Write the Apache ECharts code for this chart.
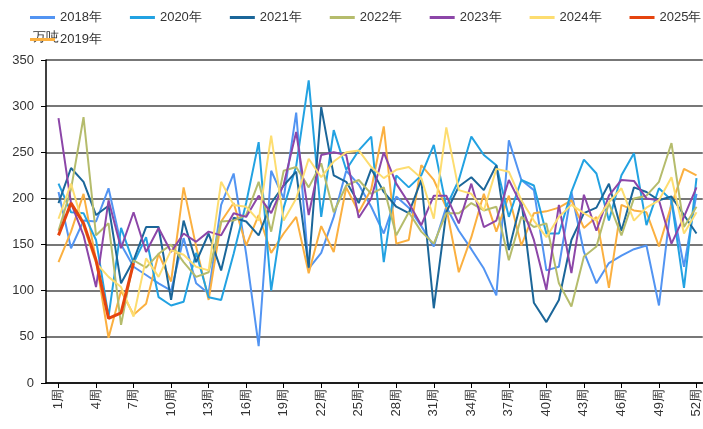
<!DOCTYPE html>
<html>
<head>
<meta charset="utf-8">
<script src="https://cdn.jsdelivr.net/npm/echarts@6/dist/echarts.min.js"></script>
<style>
  html, body { margin: 0; padding: 0; background: #fff; }
  #chart { width: 703px; height: 429px; }
</style>
</head>
<body>
<div id="chart"></div>
<script>
// weekly values, 万吨
const labelWeeks = [1, 4, 7, 10, 13, 16, 19, 22, 25, 28, 31, 34, 37, 40, 43, 46, 49, 52]
const yTicks = [0, 50, 100, 150, 200, 250, 300, 350]

const y2018 = [207, 146, 176, 175, 211, 150, 126, 117, 108, 100, 157, 108, 97, 193, 227, 140, 40, 230, 200, 293,
  124, 141, 180, 230, 215, 191, 162, 202, 190, 170, 148, 191, 165, 145, 124, 95, 263, 220, 209, 122,
  126, 207, 142, 108, 130, 138, 145, 149, 84, 198, 126, 205]
const y2019 = [131, 164, 205, 133, 49, 100, 74, 86, 140, 110, 212, 148, 90, 175, 195, 149, 182, 141, 162, 180,
  119, 170, 142, 212, 185, 210, 278, 151, 155, 236, 220, 190, 120, 158, 205, 164, 203, 149, 184, 186,
  190, 198, 168, 180, 103, 193, 187, 185, 148, 193, 232, 225]
const y2020 = [216, 185, 184, 155, 72, 168, 130, 158, 93, 84, 88, 141, 93, 90, 140, 195, 261, 100, 190, 235,
  328, 180, 274, 231, 252, 267, 131, 225, 212, 225, 258, 191, 220, 267, 247, 236, 180, 220, 214, 162,
  162, 207, 242, 227, 176, 225, 249, 171, 211, 198, 103, 222]
const y2021 = [195, 233, 218, 182, 192, 108, 133, 169, 169, 90, 176, 131, 162, 122, 179, 175, 160, 195, 214, 229,
  125, 299, 225, 218, 195, 232, 207, 191, 184, 220, 81, 185, 213, 223, 209, 236, 144, 198, 87, 66,
  90, 155, 184, 190, 216, 165, 212, 207, 198, 202, 182, 162]
const y2022 = [165, 210, 288, 160, 173, 63, 133, 125, 140, 150, 131, 115, 120, 175, 176, 182, 218, 164, 230, 234,
  212, 238, 185, 214, 220, 205, 212, 160, 185, 164, 151, 184, 184, 195, 187, 191, 133, 180, 169, 173,
  108, 83, 137, 148, 195, 160, 200, 203, 218, 260, 169, 191]
const y2023 = [287, 195, 160, 104, 198, 146, 185, 142, 168, 142, 162, 153, 164, 160, 184, 180, 203, 184, 215, 272,
  182, 247, 250, 247, 179, 200, 250, 216, 195, 171, 203, 203, 173, 216, 169, 176, 220, 193, 155, 101,
  193, 119, 204, 165, 203, 220, 219, 200, 198, 151, 180, 212]
const y2024 = [178, 216, 170, 130, 115, 104, 72, 135, 115, 144, 139, 126, 122, 218, 193, 191, 176, 268, 176, 200,
  243, 223, 240, 250, 252, 234, 222, 231, 234, 222, 178, 277, 209, 205, 187, 232, 229, 198, 176, 158,
  180, 193, 184, 176, 196, 211, 176, 190, 198, 223, 162, 185]
const y2025 = [160, 195, 173, 133, 70, 76, 130]

const seriesList = [
  { name: '2018年', values: y2018, color: '#5294F2' },
  { name: '2019年', values: y2019, color: '#FBB040' },
  { name: '2020年', values: y2020, color: '#22A2E2' },
  { name: '2021年', values: y2021, color: '#1B6699' },
  { name: '2022年', values: y2022, color: '#B5BC6C' },
  { name: '2023年', values: y2023, color: '#8C46A8' },
  { name: '2024年', values: y2024, color: '#FDDD70' },
  { name: '2025年', values: y2025, color: '#E5440E', width: 3 }
]
const legendRow1 = ['2018年', '2020年', '2021年', '2022年', '2023年', '2024年', '2025年']
const legendRow2 = ['2019年']

const chart = echarts.init(document.getElementById('chart'))

const legendBase = {
  left: 30,
  padding: 0,
  icon: 'rect',
  itemWidth: 25,
  itemHeight: 3,
  itemGap: 28,
  textStyle: { fontSize: 13, color: '#333' }
}

const option = {
  animation: false,
  textStyle: { fontFamily: 'Liberation Sans, Arial, sans-serif' },
  legend: [
    Object.assign({ data: legendRow1, top: 11 }, legendBase),
    Object.assign({ data: legendRow2, top: 33 }, legendBase)
  ],
  grid: { left: 46, right: 0, top: 60, bottom: 46 },
  xAxis: {
    type: 'value',
    min: 0,
    max: 52.5,
    axisLine: { show: true, onZero: false, lineStyle: { color: '#000', width: 1.5 } },
    axisTick: { show: true, customValues: labelWeeks, length: 5, lineStyle: { color: '#000' } },
    axisLabel: {
      customValues: labelWeeks,
      rotate: 90,
      fontSize: 13,
      color: '#333',
      margin: 6,
      formatter: v => v + '周'
    },
    splitLine: { show: false }
  },
  yAxis: {
    type: 'value',
    min: yTicks[0],
    max: yTicks[yTicks.length - 1],
    interval: 50,
    name: '万吨',
    nameLocation: 'end',
    nameGap: 16,
    nameTextStyle: { fontSize: 13, color: '#333' },
    axisLine: { show: true, lineStyle: { color: '#000', width: 1.5 } },
    axisTick: { show: true, length: 5, lineStyle: { color: '#000' } },
    axisLabel: { fontSize: 13, color: '#333', margin: 12 },
    splitLine: { show: true, lineStyle: { color: '#4a4a4a', width: 1.6 } }
  },
  series: seriesList.map(s => ({
    name: s.name,
    type: 'line',
    showSymbol: false,
    symbol: 'none',
    data: s.values.map((v, i) => [i + 1, v]),
    itemStyle: { color: s.color },
    lineStyle: { color: s.color, width: s.width || 2 }
  }))
}

chart.setOption(option)
</script>
</body>
</html>
